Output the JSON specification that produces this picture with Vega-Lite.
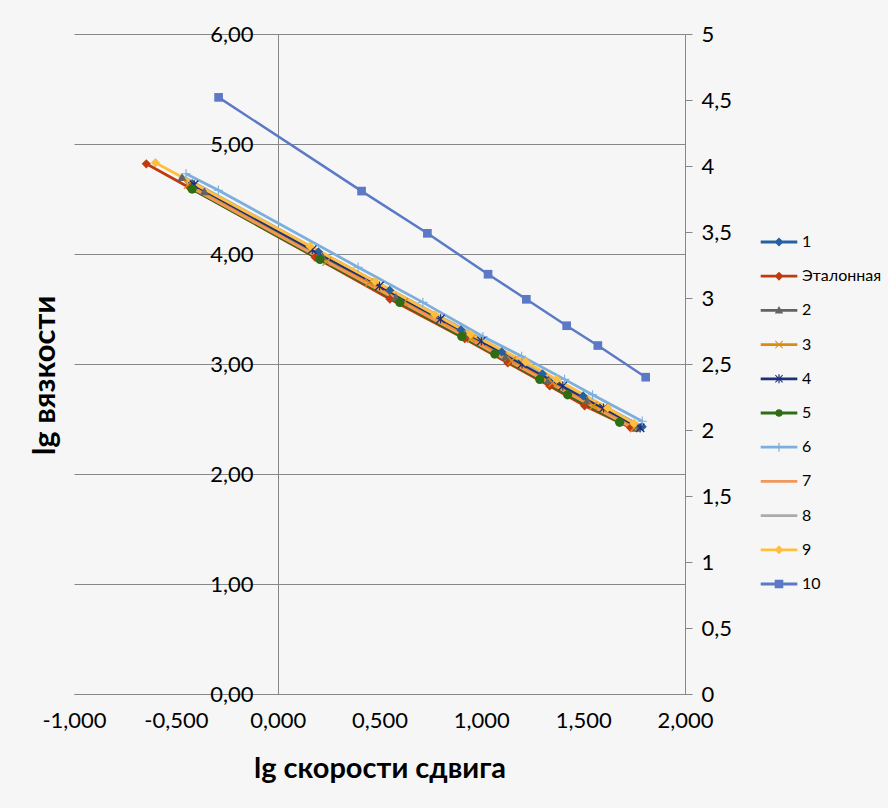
{
  "$schema": "https://vega.github.io/schema/vega-lite/v6.json",
  "width": 611,
  "height": 660,
  "autosize": "none",
  "padding": {"left": 74, "top": 34, "right": 203, "bottom": 114},
  "background": "#f6f6f6",
  "config": {
    "view": {"stroke": null},
    "font": "Lato",
    "axis": {"labelFont": "Lato", "titleFont": "Lato", "labelColor": "#000", "titleColor": "#000"}
  },
  "data": {"values": [
    {"s": "1", "x": -0.42, "y": 4.64}, {"s": "1", "x": 0.20, "y": 4.02}, {"s": "1", "x": 0.55, "y": 3.67}, {"s": "1", "x": 0.90, "y": 3.31}, {"s": "1", "x": 1.10, "y": 3.11}, {"s": "1", "x": 1.30, "y": 2.91}, {"s": "1", "x": 1.50, "y": 2.71}, {"s": "1", "x": 1.79, "y": 2.43},
    {"s": "Эталонная", "x": -0.645, "y": 4.82}, {"s": "Эталонная", "x": -0.43, "y": 4.60}, {"s": "Эталонная", "x": 0.184, "y": 3.97}, {"s": "Эталонная", "x": 0.551, "y": 3.59}, {"s": "Эталонная", "x": 0.919, "y": 3.23}, {"s": "Эталонная", "x": 1.130, "y": 3.01}, {"s": "Эталонная", "x": 1.336, "y": 2.80}, {"s": "Эталонная", "x": 1.507, "y": 2.62}, {"s": "Эталонная", "x": 1.733, "y": 2.42},
    {"s": "2", "x": -0.47, "y": 4.70}, {"s": "2", "x": -0.36, "y": 4.57}, {"s": "2", "x": 0.22, "y": 3.98}, {"s": "2", "x": 0.58, "y": 3.61}, {"s": "2", "x": 0.92, "y": 3.27}, {"s": "2", "x": 1.12, "y": 3.07}, {"s": "2", "x": 1.33, "y": 2.86}, {"s": "2", "x": 1.52, "y": 2.67}, {"s": "2", "x": 1.76, "y": 2.42},
    {"s": "3", "x": -0.44, "y": 4.63}, {"s": "3", "x": 0.24, "y": 3.93}, {"s": "3", "x": 0.45, "y": 3.74}, {"s": "3", "x": 0.62, "y": 3.56}, {"s": "3", "x": 0.95, "y": 3.23}, {"s": "3", "x": 1.15, "y": 3.03}, {"s": "3", "x": 1.35, "y": 2.83}, {"s": "3", "x": 1.55, "y": 2.62}, {"s": "3", "x": 1.75, "y": 2.42},
    {"s": "4", "x": -0.41, "y": 4.63}, {"s": "4", "x": 0.17, "y": 4.04}, {"s": "4", "x": 0.50, "y": 3.71}, {"s": "4", "x": 0.80, "y": 3.41}, {"s": "4", "x": 1.00, "y": 3.21}, {"s": "4", "x": 1.20, "y": 3.00}, {"s": "4", "x": 1.40, "y": 2.80}, {"s": "4", "x": 1.60, "y": 2.60}, {"s": "4", "x": 1.78, "y": 2.42},
    {"s": "5", "x": -0.42, "y": 4.59}, {"s": "5", "x": 0.208, "y": 3.95}, {"s": "5", "x": 0.600, "y": 3.56}, {"s": "5", "x": 0.904, "y": 3.25}, {"s": "5", "x": 1.066, "y": 3.09}, {"s": "5", "x": 1.287, "y": 2.86}, {"s": "5", "x": 1.424, "y": 2.72}, {"s": "5", "x": 1.679, "y": 2.47},
    {"s": "6", "x": -0.45, "y": 4.73}, {"s": "6", "x": -0.291, "y": 4.58}, {"s": "6", "x": 0.395, "y": 3.88}, {"s": "6", "x": 0.713, "y": 3.56}, {"s": "6", "x": 1.008, "y": 3.25}, {"s": "6", "x": 1.198, "y": 3.07}, {"s": "6", "x": 1.409, "y": 2.86}, {"s": "6", "x": 1.546, "y": 2.72}, {"s": "6", "x": 1.79, "y": 2.48},
    {"s": "7", "x": -0.44, "y": 4.62}, {"s": "7", "x": 0.20, "y": 3.97}, {"s": "7", "x": 0.55, "y": 3.62}, {"s": "7", "x": 0.90, "y": 3.27}, {"s": "7", "x": 1.10, "y": 3.06}, {"s": "7", "x": 1.30, "y": 2.86}, {"s": "7", "x": 1.50, "y": 2.66}, {"s": "7", "x": 1.74, "y": 2.42},
    {"s": "8", "x": -0.47, "y": 4.71}, {"s": "8", "x": 0.20, "y": 4.03}, {"s": "8", "x": 0.50, "y": 3.73}, {"s": "8", "x": 0.80, "y": 3.43}, {"s": "8", "x": 1.00, "y": 3.23}, {"s": "8", "x": 1.20, "y": 3.02}, {"s": "8", "x": 1.40, "y": 2.82}, {"s": "8", "x": 1.60, "y": 2.62}, {"s": "8", "x": 1.77, "y": 2.45},
    {"s": "9", "x": -0.60, "y": 4.83}, {"s": "9", "x": 0.159, "y": 4.07}, {"s": "9", "x": 0.478, "y": 3.75}, {"s": "9", "x": 0.772, "y": 3.45}, {"s": "9", "x": 0.948, "y": 3.27}, {"s": "9", "x": 1.217, "y": 3.02}, {"s": "9", "x": 1.37, "y": 2.86}, {"s": "9", "x": 1.62, "y": 2.60}, {"s": "9", "x": 1.75, "y": 2.46},
    {"s": "10", "x": -0.29, "y": 4.52}, {"s": "10", "x": 0.412, "y": 3.81}, {"s": "10", "x": 0.735, "y": 3.49}, {"s": "10", "x": 1.033, "y": 3.18}, {"s": "10", "x": 1.221, "y": 2.99}, {"s": "10", "x": 1.419, "y": 2.79}, {"s": "10", "x": 1.572, "y": 2.64}, {"s": "10", "x": 1.807, "y": 2.40}
  ]},
  "encoding": {
    "x": {
      "field": "x", "type": "quantitative",
      "scale": {"domain": [-1, 2], "nice": false, "zero": false},
      "axis": {
        "values": [-1, -0.5, 0, 0.5, 1, 1.5, 2],
        "labelExpr": "(datum.value < 0 ? '-' : '') + replace(format(abs(datum.value), '.3f'), '.', ',')",
        "labelFlush": false, "labelOverlap": false,
        "grid": false, "ticks": false,
        "domainColor": "#878787", "domainWidth": 1,
        "labelFontSize": 22, "labelPadding": 16,
        "title": "lg скорости сдвига", "titleFontSize": 29, "titleFontWeight": "bold", "titlePadding": 23
      }
    },
    "color": {
      "field": "s", "type": "nominal",
      "scale": {
        "domain": ["1", "Эталонная", "2", "3", "4", "5", "6", "7", "8", "9", "10"],
        "range": ["#2560A0", "#BF3B0C", "#636363", "#DC8A12", "#1C2F7A", "#2D6E14", "#7CAFDD", "#F1975A", "#ABABAB", "#FFBE3F", "#5B79C6"]
      },
      "legend": {
        "title": null, "orient": "none", "legendX": 695, "legendY": 198,
        "symbolSize": 400, "labelFontSize": 16, "labelFont": "Lato", "labelColor": "#000",
        "rowPadding": 16.2, "labelOffset": 13, "padding": 0,
        "encode": {"symbols": {"update": {
          "shape": {"signal": "datum.value === '10' ? 'M-1.83,-0.14H-0.43V-0.43H0.43V-0.14H1.83V0.14H0.43V0.43H-0.43V0.14H-1.83Z' : datum.value === '2' ? 'M-1.83,-0.14H1.83V0.14H-1.83Z M0,-0.45L0.42,0.3L-0.42,0.3Z' : datum.value === '3' ? 'M-1.83,-0.14H1.83V0.14H-1.83Z M-0.33,-0.4L0,-0.07L0.33,-0.4L0.4,-0.33L0.07,0L0.4,0.33L0.33,0.4L0,0.07L-0.33,0.4L-0.4,0.33L-0.07,0L-0.4,-0.33Z' : datum.value === '4' ? 'M-1.83,-0.14H1.83V0.14H-1.83Z M-0.33,-0.4L0,-0.07L0.33,-0.4L0.4,-0.33L0.07,0L0.4,0.33L0.33,0.4L0,0.07L-0.33,0.4L-0.4,0.33L-0.07,0L-0.4,-0.33Z M-0.06,-0.45H0.06V0.45H-0.06Z' : datum.value === '5' ? 'M-1.83,-0.14H-0.353L-0.269,-0.269L-0.145,-0.351L0,-0.38L0.145,-0.351L0.269,-0.269L0.353,-0.14H1.83V0.14H0.353L0.269,0.269L0.145,0.351L0,0.38L-0.145,0.351L-0.269,0.269L-0.353,0.14H-1.83Z' : datum.value === '6' ? 'M-1.83,-0.14H-0.06V-0.45H0.06V-0.14H1.83V0.14H0.06V0.45H-0.06V0.14H-1.83Z' : (datum.value === '7' || datum.value === '8') ? 'M-1.83,-0.14H1.83V0.14H-1.83Z' : 'M-1.83,-0.14H-0.31L0,-0.45L0.31,-0.14H1.83V0.14H0.31L0,0.45L-0.31,0.14H-1.83Z'"},
          "fill": {"scale": "color", "field": "value"},
          "stroke": {"value": "transparent"},
          "strokeWidth": {"value": 0},
          "opacity": {"value": 1}
        }}}
      }
    }
  },
  "layer": [
    {
      "transform": [{"filter": "datum.s !== '10'"}],
      "encoding": {
        "y": {
          "field": "y", "type": "quantitative",
          "scale": {"domain": [0, 6], "nice": false},
          "axis": {
            "orient": "left", "offset": -204,
            "values": [0, 1, 2, 3, 4, 5, 6],
            "labelExpr": "replace(format(datum.value, '.2f'), '.', ',')",
            "labelFlush": false,
            "grid": true, "gridColor": "#878787", "gridWidth": 1,
            "ticks": false, "domainColor": "#878787", "domainWidth": 1,
            "labelPadding": 25, "labelFontSize": 22,
            "title": "lg вязкости", "titleFontSize": 31, "titleFontWeight": "bold",
            "titleAngle": -90, "titleX": -233, "titleY": 341, "titleBaseline": "middle", "titleAlign": "center"
          }
        }
      },
      "layer": [
        {"mark": {"type": "line", "strokeWidth": 2.75}},
        {
          "transform": [{"filter": "datum.s !== '7' && datum.s !== '8'"}],
          "mark": {"type": "point", "filled": true, "size": 85, "opacity": 1},
          "encoding": {
            "shape": {
              "field": "s", "type": "nominal",
              "scale": {
                "domain": ["1", "Эталонная", "2", "3", "4", "5", "6", "9"],
                "range": ["diamond", "diamond", "triangle-up",
                  "M-0.8,-1L0,-0.2L0.8,-1L1,-0.8L0.2,0L1,0.8L0.8,1L0,0.2L-0.8,1L-1,0.8L-0.2,0L-1,-0.8Z",
                  "M-0.8,-1L0,-0.2L0.8,-1L1,-0.8L0.2,0L1,0.8L0.8,1L0,0.2L-0.8,1L-1,0.8L-0.2,0L-1,-0.8Z M-0.12,-1H0.12V1H-0.12Z",
                  "circle",
                  "M-0.12,-1H0.12V-0.12H1V0.12H0.12V1H-0.12V0.12H-1V-0.12H-0.12Z",
                  "diamond"]
              },
              "legend": null
            }
          }
        }
      ]
    },
    {
      "transform": [{"filter": "datum.s === '10'"}],
      "encoding": {
        "y": {
          "field": "y", "type": "quantitative",
          "scale": {"domain": [0, 5], "nice": false},
          "axis": {
            "orient": "right",
            "values": [0, 0.5, 1, 1.5, 2, 2.5, 3, 3.5, 4, 4.5, 5],
            "labelExpr": "replace(toString(datum.value), '.', ',')",
            "labelFlush": false,
            "grid": false, "ticks": true, "tickSize": 7, "tickColor": "#878787",
            "domainColor": "#878787", "domainWidth": 1,
            "labelPadding": 9, "labelFontSize": 22, "title": null
          }
        }
      },
      "layer": [
        {"mark": {"type": "line", "strokeWidth": 2.5}},
        {"mark": {"type": "point", "shape": "square", "filled": true, "size": 75, "opacity": 1}}
      ]
    }
  ],
  "resolve": {"scale": {"y": "independent"}}
}
